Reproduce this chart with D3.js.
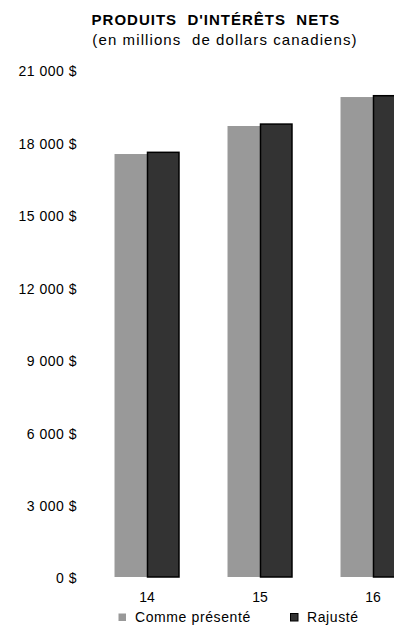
<!DOCTYPE html>
<html>
<head>
<meta charset="utf-8">
<script src="https://cdn.jsdelivr.net/npm/d3@7"></script>
<style>
  html, body { margin: 0; padding: 0; background: #fff; }
  svg { display: block; font-family: "Liberation Sans", Arial, sans-serif; }
</style>
</head>
<body>
<svg id="chart" width="394" height="630"></svg>
<script>
// Net interest income, in millions of Canadian dollars
const years = ["14", "15", "16"];
const seriesNames = ["Comme présenté", "Rajusté"];
const asReported = [17520, 18680, 19880];
const restated = [17590, 18760, 19935];
const yTicks = [0, 3000, 6000, 9000, 12000, 15000, 18000, 21000];
const colors = ["#999999", "#333333"];

const svg = d3.select("#chart");

const y = d3.scaleLinear().domain([0, 21000]).range([577, 70]);
const x = d3.scaleBand().domain(years).range([90.5, 429.5])
  .paddingInner(0.425).paddingOuter(0.2125);
const xs = d3.scaleBand().domain([0, 1]).range([0, x.bandwidth()]);

const fmt = v => d3.format(",")(v).replace(/,/g, "\u00a0") + " $";

// Title
svg.append("text").attr("x", 216).attr("y", 25).attr("text-anchor", "middle")
  .attr("font-size", 15).attr("font-weight", "bold")
  .attr("letter-spacing", 1).style("white-space", "pre")
  .text("PRODUITS  D'INTÉRÊTS  NETS");
svg.append("text").attr("x", 225).attr("y", 45).attr("text-anchor", "middle")
  .attr("font-size", 15).attr("letter-spacing", 1.1).style("white-space", "pre")
  .text("(en millions  de dollars canadiens)");

// Y axis labels (no line, no ticks)
const yAxis = d3.axisLeft(y).tickValues(yTicks).tickFormat(fmt).tickSize(0).tickPadding(0);
const yg = svg.append("g").attr("transform", "translate(77,1.5)").call(yAxis);
yg.select(".domain").remove();
yg.selectAll("text").attr("font-size", 14).attr("fill", "#000")
  .attr("letter-spacing", 0.5)
  .attr("font-family", "Liberation Sans, Arial, sans-serif");

// Bars
const data = years.map((yr, i) => ({ yr, vals: [asReported[i], restated[i]] }));
const groups = svg.append("g").selectAll("g").data(data).join("g")
  .attr("transform", d => `translate(${x(d.yr)},0)`);
groups.selectAll("rect").data(d => d.vals.map((v, k) => ({ v, k }))).join("rect")
  .attr("x", d => xs(d.k) + (d.k === 1 ? 0.5 : 0))
  .attr("y", d => y(d.v))
  .attr("width", d => xs.bandwidth() - (d.k === 1 ? 1 : 0))
  .attr("height", d => y(0) - y(d.v))
  .attr("fill", d => colors[d.k])
  .attr("stroke", d => d.k === 1 ? "#000" : "none")
  .attr("stroke-width", 1.5);

// X axis labels
const xAxis = d3.axisBottom(x).tickSize(0).tickPadding(0);
const xg = svg.append("g").attr("transform", "translate(0,592)").call(xAxis);
xg.select(".domain").remove();
xg.selectAll("text").attr("font-size", 14).attr("fill", "#000")
  .attr("font-family", "Liberation Sans, Arial, sans-serif");

// Legend
const legendX = [118, 290];
const lg = svg.append("g").selectAll("g").data(seriesNames).join("g")
  .attr("transform", (d, i) => `translate(${legendX[i]},613)`);
lg.append("rect").attr("x", 0.5).attr("y", 0.5).attr("width", 7.5).attr("height", 7.5)
  .attr("fill", (d, i) => colors[i])
  .attr("stroke", (d, i) => i === 1 ? "#000" : "none").attr("stroke-width", 1);
lg.append("text").attr("x", 17).attr("y", 8.5).attr("font-size", 14)
  .attr("letter-spacing", 0.6).text(d => d);
</script>
</body>
</html>
